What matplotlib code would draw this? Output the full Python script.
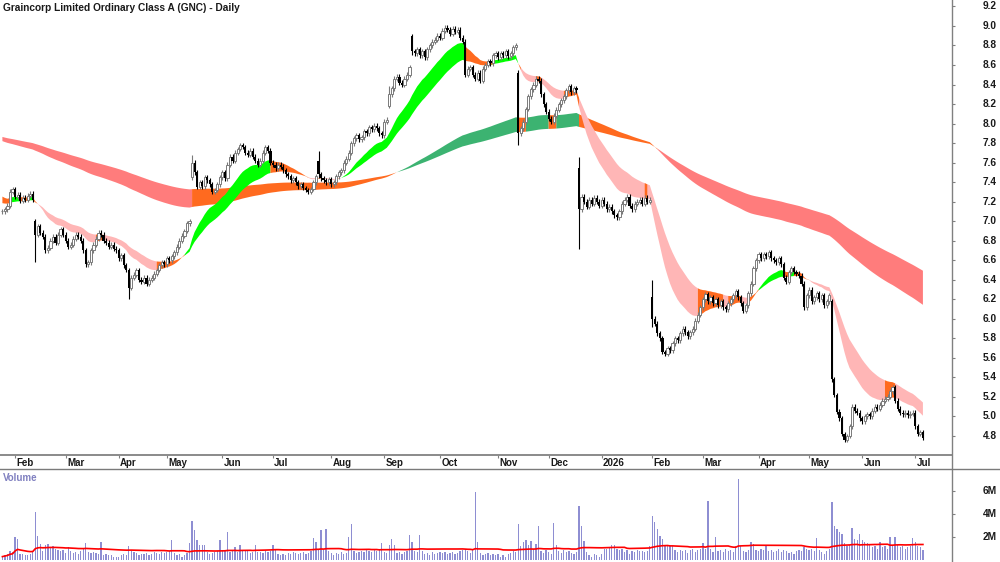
import numpy as np
import pandas as pd
import matplotlib
matplotlib.use("Agg")
import matplotlib.pyplot as plt
from matplotlib.lines import Line2D
from matplotlib.transforms import blended_transform_factory

plt.rcParams['font.family'] = ['Liberation Sans', 'DejaVu Sans']
plt.rcParams['font.weight'] = 'bold'

# ---------------- data ----------------
title = "Graincorp Limited Ordinary Class A (GNC) - Daily"
start_date = "2025-01-24"
asx_holidays = ["2025-01-27", "2025-04-18", "2025-04-21", "2025-04-25", "2025-06-09",
                "2025-12-25", "2025-12-26", "2026-01-01", "2026-01-26", "2026-04-03",
                "2026-04-06", "2026-06-08"]

closes = [
    7.10, 7.12, 7.16, 7.30, 7.33, 7.25, 7.27, 7.21, 7.24, 7.22, 7.26, 7.28, 7.22,
    6.86, 6.95, 6.88, 6.84, 6.70, 6.73, 6.80, 6.84, 6.78, 6.86, 6.92, 6.86,
    6.80, 6.74, 6.76, 6.82, 6.86, 6.84, 6.80, 6.70, 6.56, 6.58, 6.70, 6.76,
    6.82, 6.88, 6.86, 6.80, 6.78, 6.74, 6.76, 6.72, 6.70, 6.62, 6.65, 6.55, 6.50,
    6.32, 6.42, 6.45, 6.50, 6.40, 6.38, 6.42, 6.36, 6.40, 6.42, 6.46, 6.50,
    6.55, 6.58, 6.56, 6.62, 6.60, 6.64, 6.68, 6.74, 6.80, 6.85, 6.90, 6.98, 7.00,
    7.60, 7.50, 7.35, 7.40, 7.36, 7.45, 7.42, 7.38, 7.30, 7.32, 7.38, 7.45, 7.50, 7.44,
    7.58, 7.66, 7.62, 7.70, 7.74, 7.78, 7.76, 7.70, 7.68, 7.72, 7.66, 7.62, 7.58,
    7.62, 7.70, 7.76, 7.72, 7.60, 7.58, 7.54, 7.58, 7.56, 7.52, 7.48, 7.46, 7.42,
    7.44, 7.40, 7.36, 7.38, 7.34, 7.32, 7.30, 7.33, 7.40, 7.46, 7.48, 7.44, 7.42,
    7.40, 7.43, 7.38, 7.40, 7.46, 7.50, 7.52, 7.60, 7.64, 7.70, 7.80, 7.85, 7.88,
    7.84, 7.86, 7.92, 7.90, 7.96, 7.94, 7.98, 7.95, 7.90, 7.88, 8.02, 8.04,
    8.30, 8.36, 8.46, 8.48, 8.42, 8.40, 8.46, 8.50, 8.58,
    8.74, 8.72, 8.76, 8.70, 8.74, 8.68, 8.76, 8.80, 8.84, 8.86, 8.90, 8.88, 8.95,
    8.98, 8.96, 8.92, 8.97, 8.94, 8.96, 8.88, 8.84, 8.50,
    8.56, 8.58, 8.50, 8.46, 8.52, 8.44, 8.56, 8.60, 8.64, 8.62, 8.70, 8.72, 8.68,
    8.72, 8.70, 8.74, 8.69, 8.72, 8.78, 8.80,
    7.90, 7.95, 8.02, 8.15, 8.28, 8.35, 8.40, 8.46, 8.44, 8.30, 8.20, 8.12, 8.05,
    8.02, 8.08, 8.14, 8.20, 8.24, 8.28, 8.34, 8.38, 8.32, 8.36, 8.34,
    7.12, 7.25, 7.20, 7.15, 7.22, 7.18, 7.24, 7.20, 7.16, 7.22, 7.18, 7.12, 7.15,
    7.10, 7.06, 7.04, 7.10, 7.18, 7.22, 7.25, 7.16, 7.12, 7.18, 7.20, 7.22, 7.18,
    7.24, 7.20, 7.22,
    6.00, 5.95, 5.85, 5.80, 5.66, 5.64, 5.70, 5.68, 5.75, 5.80, 5.78, 5.85, 5.90,
    5.86, 5.82, 5.86, 5.90, 5.98, 6.04,
    6.12, 6.20, 6.25, 6.18, 6.22, 6.16, 6.20, 6.14, 6.18, 6.12, 6.10, 6.16, 6.20,
    6.24, 6.28, 6.22, 6.16, 6.08, 6.14, 6.26, 6.36,
    6.52, 6.60, 6.66, 6.62, 6.66, 6.64, 6.68, 6.62, 6.60, 6.58, 6.62, 6.56, 6.42,
    6.38, 6.48, 6.52, 6.48, 6.46, 6.44, 6.36, 6.12,
    6.24, 6.30, 6.18, 6.22, 6.26, 6.20, 6.24, 6.14, 6.18, 6.24,
    5.38, 5.22, 5.05, 4.98, 4.82, 4.76, 4.80, 4.90, 5.10, 5.06, 5.04, 4.98, 4.95,
    5.00, 5.02, 5.00, 5.06, 5.10, 5.08, 5.12, 5.16, 5.18, 5.20, 5.26, 5.30, 5.16,
    5.08, 5.04, 5.02, 5.04, 5.01, 5.03, 5.04, 4.90, 4.82, 4.84, 4.78,
]

# gap / long-wick days: index into closes, open, high, low
gap_idx = [13, 50, 75, 125, 153, 162, 204, 228, 257, 328]
gap_open = [7.00, 6.50, 7.45, 7.62, 8.18, 8.90, 8.52, 7.55, 6.22, 6.18]
gap_high = [7.02, 6.52, 7.68, 7.72, 8.38, 8.92, 8.55, 7.66, 6.40, 6.20]
gap_low = [6.58, 6.20, 7.42, 7.44, 8.16, 8.70, 7.78, 6.72, 5.92, 5.35]

volumes_m = [
    0.3, 0.4, 0.5, 0.8, 0.7, 2.0, 1.8, 0.5, 0.5, 0.4,
    0.4, 0.5, 0.8, 4.2, 2.1, 1.4, 0.8, 1.3, 1.4, 1.1,
    1.2, 1.0, 0.9, 0.8, 0.9, 0.6, 1.1, 0.8, 0.6, 0.7,
    0.5, 0.8, 1.0, 1.5, 0.7, 0.6, 0.7, 0.6, 0.5, 1.6,
    0.4, 0.5, 0.4, 0.4, 0.3, 0.3, 0.3, 0.4, 0.5, 0.4,
    1.2, 0.8, 0.7, 0.6, 0.4, 0.5, 0.5, 0.6, 0.4, 0.5,
    0.7, 0.6, 0.5, 0.7, 0.6, 0.7, 0.8, 1.7, 0.6, 0.4,
    0.5, 0.3, 0.4, 0.6, 1.5, 3.4, 2.6, 1.7, 1.3, 1.3,
    1.3, 0.7, 0.5, 0.6, 0.7, 0.8, 1.7, 0.9, 0.8, 2.4,
    0.7, 0.8, 1.1, 0.7, 1.3, 0.8, 0.9, 0.8, 0.6, 0.7,
    1.3, 0.7, 0.7, 0.6, 0.8, 0.7, 0.8, 1.3, 0.9, 0.5,
    0.4, 0.5, 0.4, 0.6, 0.5, 0.7, 0.6, 0.5, 0.6, 0.7,
    0.5, 0.6, 0.8, 1.9, 1.6, 0.9, 2.6, 0.9, 2.7, 0.8,
    0.6, 0.4, 0.6, 0.5, 0.7, 0.5, 0.6, 2.0, 3.1, 0.8,
    0.6, 0.7, 0.8, 0.7, 1.0, 0.8, 0.7, 1.0, 0.8, 0.9,
    1.5, 0.7, 0.6, 1.3, 1.8, 1.3, 0.6, 0.7, 0.5, 0.7,
    0.8, 2.2, 1.6, 0.8, 0.7, 2.2, 0.8, 0.5, 0.6, 0.4,
    0.7, 0.5, 0.6, 0.7, 0.6, 0.7, 0.5, 0.6, 0.7, 0.5,
    0.6, 0.8, 0.9, 1.0, 0.8, 0.6, 0.9, 5.9, 1.6, 0.6,
    0.4, 0.5, 0.6, 0.4, 0.5, 0.4, 0.5,
    0.3, 0.4, 0.3, 0.5, 0.6, 0.8, 0.7, 3.1, 1.2, 1.6,
    1.7, 1.3, 1.65, 1.0, 1.4, 3.0, 0.8, 0.6, 0.9, 0.7,
    0.5, 3.2, 1.3, 0.8, 0.6, 0.9, 0.7, 0.8, 0.6, 0.5,
    0.7, 4.7, 3.0, 1.65, 0.7, 0.4, 0.3, 0.5, 0.4, 0.3,
    0.5, 1.0, 1.0, 1.1, 1.3, 1.3, 1.0, 0.9, 1.0, 0.7,
    0.9, 0.5, 0.8, 0.7, 0.9, 0.8, 0.8, 0.7, 0.8, 1.2,
    3.8, 3.3, 2.7, 2.1, 1.8, 1.3, 1.3, 1.2, 1.2, 0.9,
    0.7, 0.9, 0.8, 0.9, 0.6, 0.9, 1.0, 0.7, 0.9, 1.0,
    1.5, 1.0, 5.1, 1.0, 0.7, 2.0, 0.8, 0.9, 0.7, 1.0,
    0.8, 0.9, 0.7, 1.2, 7.0, 1.2, 0.8, 0.7, 0.9, 1.6,
    1.4, 0.9, 0.8, 1.0, 0.9, 1.3, 0.8, 0.9, 0.7, 0.8,
    1.0, 0.7, 0.9, 0.8, 0.6, 0.7, 0.5, 0.8, 0.9, 0.8,
    1.1, 1.0, 0.9, 1.0, 0.8, 1.9, 0.9, 0.7, 0.5, 0.8,
    1.0, 5.0, 3.0, 2.7, 2.4, 2.3, 1.5, 1.2, 1.3, 2.8,
    1.8, 1.7, 2.3, 1.7, 1.6, 1.5, 1.4, 1.1, 1.2, 1.0,
    1.6, 1.1, 1.2, 1.0, 2.0, 1.3, 2.0, 1.3, 1.1, 1.2,
    1.0, 1.1, 1.2, 1.9, 1.6, 1.2, 1.1, 0.9,
]

# moving-average band settings (indicator periods and starting values)
short_fast_n, short_slow_n = 18, 32
long_fast_n, long_slow_n = 150, 225
short_seed = (7.27, 7.19)
long_seed = (7.83, 7.87)
vol_ma_n = 60

price_ticks = [4.8, 5.0, 5.2, 5.4, 5.6, 5.8, 6.0, 6.2, 6.4, 6.6, 6.8, 7.0,
               7.2, 7.4, 7.6, 7.8, 8.0, 8.2, 8.4, 8.6, 8.8, 9.0, 9.2]
vol_ticks = [2, 4, 6]
vol_tick_labels = ["2M", "4M", "6M"]

assert len(closes) == len(volumes_m), (len(closes), len(volumes_m))

# ---------------- derived ----------------
n = len(closes)
c = np.array(closes)
vol = np.array(volumes_m)
dates = pd.bdate_range(start=start_date, periods=n, freq='C', holidays=asx_holidays)
x = np.arange(n)

o = np.r_[c[0], c[:-1]]
wick = 0.025
hi = np.maximum(o, c) + wick
lo = np.minimum(o, c) - wick
for k, gi in enumerate(gap_idx):
    o[gi] = gap_open[k]
    hi[gi] = gap_high[k]
    lo[gi] = gap_low[k]


def ema(vals, period, seed):
    a = 2.0 / (period + 1)
    out = np.empty(len(vals))
    v = seed
    for k, p in enumerate(vals):
        v = v + a * (p - v)
        out[k] = v
    return out


def band_state(fast, slow, seed_fast):
    rising = np.diff(np.r_[seed_fast, fast]) > 0
    st = np.full(len(fast), 'mixed', dtype=object)
    st[rising & (fast > slow)] = 'bull'
    st[(~rising) & (fast < slow)] = 'bear'
    return st


def fill_band(ax, fast, slow, states, colors, z):
    lo_b = np.minimum(fast, slow)
    hi_b = np.maximum(fast, slow)
    for s, col in colors.items():
        m = states == s
        m2 = m.copy()
        m2[1:] |= m[:-1]
        ax.fill_between(x, lo_b, hi_b, where=m2, color=col, lw=0, zorder=z,
                        interpolate=False)


sf = ema(c, short_fast_n, short_seed[0])
ss = ema(c, short_slow_n, short_seed[1])
lf = ema(c, long_fast_n, long_seed[0])
ls = ema(c, long_slow_n, long_seed[1])
short_states = band_state(sf, ss, short_seed[0])
long_states = band_state(lf, ls, long_seed[0])

ORANGE = '#FF6A1F'
short_colors = {'bull': '#00FF00', 'bear': '#FFB6B6', 'mixed': ORANGE}
long_colors = {'bull': '#3CB371', 'bear': '#FF7C7C', 'mixed': ORANGE}

# ---------------- figure ----------------
W, H = 1000, 562
fig = plt.figure(figsize=(W / 100, H / 100), dpi=100)
right_px = 952
price_top, price_bot = 0, 455
vol_top, vol_bot = 469, 562
label_px = 983

axp = fig.add_axes([0, 1 - price_bot / H, right_px / W, (price_bot - price_top) / H])
axv = fig.add_axes([0, 1 - vol_bot / H, right_px / W, (vol_bot - vol_top) / H])

x_left = -0.95
x_right = 375.5
for ax in (axp, axv):
    ax.set_xlim(x_left, x_right)
    ax.set_facecolor('white')
    for sp in ('left', 'top', 'right'):
        ax.spines[sp].set_visible(False)

axp.set_ylim(4.605, 9.266)
axv.set_ylim(-0.17, 7.91)

# bands
fill_band(axp, lf, ls, long_states, long_colors, 1)
fill_band(axp, sf, ss, short_states, short_colors, 2)

# candles
up = c >= o
dn = ~up
body_lo = np.minimum(o, c)
body_h = np.maximum(np.abs(c - o), 0.008)
GRAY = '#7A7A7A'
axp.vlines(x[up], lo[up], hi[up], color=GRAY, lw=0.8, zorder=3)
axp.vlines(x[dn], lo[dn], hi[dn], color='black', lw=0.8, zorder=3)
axp.bar(x[up], body_h[up], bottom=body_lo[up], width=0.85, facecolor='white',
        edgecolor=GRAY, linewidth=0.7, zorder=4)
axp.bar(x[dn], body_h[dn], bottom=body_lo[dn], width=0.85, color='black',
        linewidth=0, zorder=4)

# price axis (right) - ticks, labels placed at fixed pixel column
axp.yaxis.tick_right()
axp.set_yticks(price_ticks)
axp.set_yticklabels([])
axp.tick_params(axis='y', direction='out', length=2.5, width=0.8, color='#808080')
tr_p = blended_transform_factory(fig.transFigure, axp.transData)
for t in price_ticks:
    fig.text(label_px / W, t, f"{t:.1f}", transform=tr_p, ha='left', va='center',
             fontsize=7.3, fontweight='bold', color='#1a1a1a')

# month ticks
month_idx = [k for k in range(1, n) if dates[k].month != dates[k - 1].month]
month_lbl = [str(dates[k].year) if dates[k].month == 1 else dates[k].strftime('%b')
             for k in month_idx]
axp.set_xticks(month_idx)
axp.set_xticklabels([])
axp.tick_params(axis='x', direction='out', length=2.5, width=0.8, color='#808080')
axp.spines['bottom'].set_color('#8A8A8A')
axp.spines['bottom'].set_linewidth(1.4)
for k, lbl in zip(month_idx, month_lbl):
    axp.text(k + 0.5, -8 / (price_bot - price_top), lbl,
             transform=axp.get_xaxis_transform(), ha='left', va='center',
             fontsize=7, fontweight='bold', color='#1a1a1a', clip_on=False)

# volume
axv.bar(x, vol, width=0.5, color='#8E8ED2', linewidth=0, zorder=2)
vol_ma = pd.Series(vol).rolling(vol_ma_n, min_periods=1).mean().values
axv.plot(x, vol_ma, color='#FF0000', lw=1.2, zorder=3)
axv.spines['bottom'].set_visible(False)
axv.set_xticks([])
axv.yaxis.tick_right()
axv.set_yticks(vol_ticks)
axv.set_yticklabels([])
axv.tick_params(axis='y', direction='out', length=2.5, width=0.8, color='#808080')
tr_v = blended_transform_factory(fig.transFigure, axv.transData)
for t, lbl in zip(vol_ticks, vol_tick_labels):
    fig.text(label_px / W, t, lbl, transform=tr_v, ha='left', va='center',
             fontsize=7.3, fontweight='bold', color='#1a1a1a')

# frame lines
fig.add_artist(Line2D([right_px / W, right_px / W], [0, 1], color='#808080', lw=1.0))
fig.add_artist(Line2D([0, 1], [1 - vol_top / H, 1 - vol_top / H], color='#7A7A7A', lw=1.0))

# texts
fig.text(3 / W, 1 - 8 / H, title, fontsize=7.3, fontweight='bold', va='center',
         ha='left', color='#1a1a1a')
fig.text(3 / W, 1 - 478 / H, 'Volume', fontsize=7, fontweight='bold', va='center',
         ha='left', color='#8080C0')

fig.savefig('out.png', dpi=100, facecolor='white')
